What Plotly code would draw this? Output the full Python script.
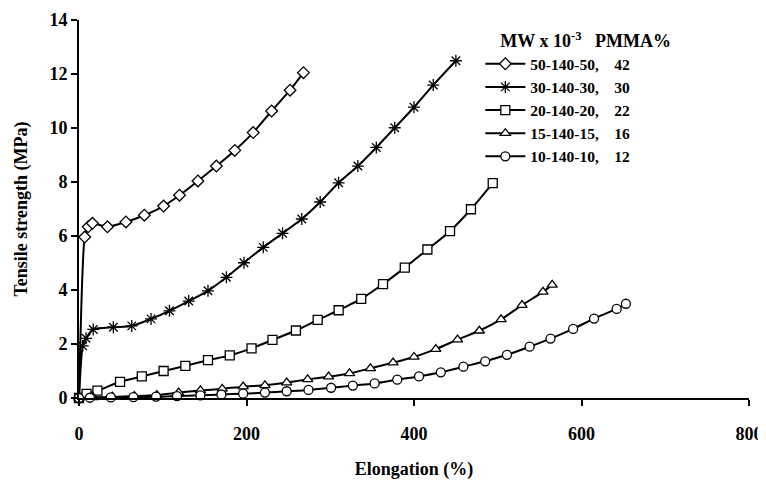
import plotly.graph_objects as go

# 50-140-50 (PMMA 42 %)
x_50 = [0, 6.8, 11, 16, 34, 56, 78, 101, 120, 142, 164, 186, 208, 230, 252, 268]
y_50 = [0, 5.96, 6.34, 6.47, 6.34, 6.52, 6.77, 7.11, 7.51, 8.04, 8.59, 9.17, 9.83, 10.63, 11.4, 12.05]

# 30-140-30 (PMMA 30 %)
x_30 = [0, 4.4, 8.4, 17, 41, 63, 86, 108, 131, 154, 176, 197, 220, 243, 266, 288, 310, 333, 355,
        377, 400, 423, 450]
y_30 = [0, 1.93, 2.21, 2.54, 2.62, 2.67, 2.93, 3.23, 3.59, 3.97, 4.47, 5.01, 5.58, 6.1, 6.63,
        7.26, 7.97, 8.59, 9.28, 10.01, 10.77, 11.59, 12.49]

# 20-140-20 (PMMA 22 %)
x_20 = [0, 9, 22, 49, 75, 101, 127, 154, 180, 206, 231, 259, 285, 310, 337, 363, 389, 416, 443,
        468, 494]
y_20 = [0, 0.15, 0.27, 0.6, 0.8, 1.0, 1.19, 1.4, 1.58, 1.84, 2.15, 2.5, 2.89, 3.25, 3.67, 4.22,
        4.83, 5.5, 6.18, 6.99, 7.96]

# 15-140-15 (PMMA 16 %)
x_15 = [0, 17, 40, 66, 93, 119, 145, 171, 196, 222, 248, 273, 298, 323, 348, 375, 400, 426, 452,
        478, 504, 529, 554, 565]
y_15 = [0, 0.02, 0.04, 0.07, 0.11, 0.2, 0.28, 0.34, 0.42, 0.47, 0.57, 0.69, 0.79, 0.91, 1.1, 1.31,
        1.52, 1.81, 2.16, 2.49, 2.91, 3.44, 3.93, 4.19]

# 10-140-10 (PMMA 12 %)
x_10 = [0, 13, 38, 65, 92, 117, 145, 170, 196, 222, 248, 274, 301, 327, 353, 380, 406, 432, 459,
        485, 511, 538, 563, 590, 615, 642, 653]
y_10 = [0, 0.01, 0.02, 0.03, 0.05, 0.07, 0.1, 0.13, 0.16, 0.2, 0.25, 0.3, 0.38, 0.46, 0.54, 0.68,
        0.8, 0.95, 1.16, 1.36, 1.6, 1.9, 2.2, 2.56, 2.94, 3.3, 3.49]

series = [
    ('50-140-50,', '42', x_50, y_50, 'diamond'),
    ('30-140-30,', '30', x_30, y_30, 'asterisk-open'),
    ('20-140-20,', '22', x_20, y_20, 'square'),
    ('15-140-15,', '16', x_15, y_15, 'triangle-up'),
    ('10-140-10,', '12', x_10, y_10, 'circle'),
]

font = 'Liberation Serif'
fig = go.Figure()

for name, pmma, xs, ys, sym in series:
    star = sym == 'asterisk-open'
    fig.add_trace(go.Scatter(
        x=xs, y=ys,
        mode='lines+markers',
        name='<b>' + name + '\u00a0\u00a0\u00a0\u00a0' + pmma + '</b>',
        line=dict(color='black', width=2, shape='spline', smoothing=0.6),
        marker=dict(
            symbol=sym,
            size=10 if star else 9,
            color='black' if star else 'white',
            line=dict(color='black', width=1.3),
        ),
        cliponaxis=False,
    ))

# the page body adds an 8px margin, so the figure is 8px smaller and left/top margins shifted
fig.update_layout(
    width=758, height=472,
    margin=dict(l=71, r=17, t=12, b=82),
    paper_bgcolor='white',
    plot_bgcolor='white',
    font=dict(family=font, size=18, color='black'),
    showlegend=True,
    legend=dict(
        title=dict(text='<b>\u00a0\u00a0\u00a0\u00a0MW x 10<sup>-3</sup>\u00a0\u00a0\u00a0PMMA%</b>',
                   font=dict(size=18)),
        x=0.599, y=0.99, xanchor='left', yanchor='top',
        bgcolor='rgba(0,0,0,0)',
        font=dict(size=15.5, family=font),
        tracegroupgap=0,
        itemwidth=40,
    ),
    xaxis=dict(
        range=[0, 800], dtick=200,
        showgrid=False, zeroline=False, automargin=False,
        showline=True, linecolor='black', linewidth=2,
        ticks='outside', ticklen=6, tickwidth=2, tickcolor='black',
        ticklabelstandoff=12,
        tickfont=dict(size=18, family=font),
        title=dict(text='<b>Elongation (%)</b>', font=dict(size=18), standoff=20),
    ),
    yaxis=dict(
        range=[0, 14], dtick=2,
        showgrid=False, zeroline=False, automargin=False,
        showline=True, linecolor='black', linewidth=2,
        ticks='outside', ticklen=6, tickwidth=2, tickcolor='black',
        tickfont=dict(size=18, family=font),
        title=dict(text='<b>Tensile strength (MPa)</b>', font=dict(size=18), standoff=17),
    ),
)
fig.update_xaxes(tickprefix='<b>', ticksuffix='</b>')
fig.update_yaxes(tickprefix='<b>', ticksuffix='</b>')

fig.write_html('out.html')
